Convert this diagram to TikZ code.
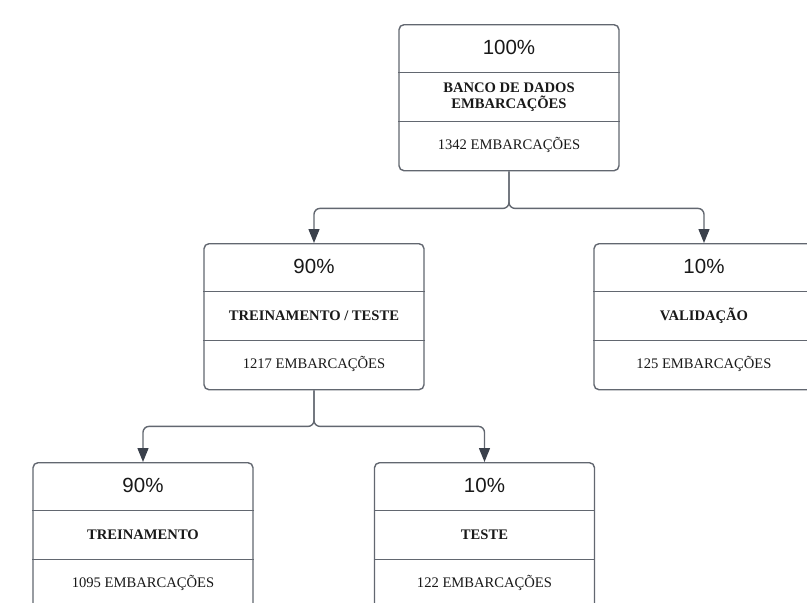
\documentclass[tikz,border=0pt]{standalone}
\usepackage{fontspec}
\setmainfont{Liberation Serif}
\newfontfamily\pctfont{Liberation Sans}
\usetikzlibrary{arrows.meta}
\definecolor{linegray}{RGB}{98,103,112}
\definecolor{tipgray}{RGB}{58,64,75}
\definecolor{txt}{RGB}{25,25,25}
\tikzset{
  boxshape/.style={draw=linegray, line width=1.4pt, rounded corners=5pt, fill=white,
    minimum width=220pt, minimum height=146pt, inner sep=0pt, anchor=north},
  divider/.style={draw=linegray, line width=1.2pt},
  pcttext/.style={font=\pctfont\fontsize{20.5}{24}\selectfont, text=txt, inner sep=0pt},
  lbltext/.style={font=\bfseries\fontsize{14.6}{16.5}\selectfont, text=txt, align=center, inner sep=0pt},
  cnttext/.style={font=\fontsize{14.6}{16}\selectfont, text=txt, inner sep=0pt},
  conn/.style={draw=linegray, line width=1.4pt, rounded corners=6pt,
    -{Triangle[length=14pt,width=11pt,fill=tipgray,color=tipgray]}},
}
% \mybox{name}{center x}{top y}{percent}{label}{count}
\newcommand{\mybox}[6]{%
  \node[boxshape] (#1) at (#2,#3) {};
  \draw[divider] ([yshift=-48.5pt]#1.north west) -- ([yshift=-48.5pt]#1.north east);
  \draw[divider] ([yshift=-97.5pt]#1.north west) -- ([yshift=-97.5pt]#1.north east);
  \node[pcttext] (#1-pct) at ([yshift=-23pt]#1.north) {#4};
  \node[lbltext] (#1-lbl) at ([yshift=-73pt]#1.north) {#5};
  \node[cnttext] (#1-cnt) at ([yshift=-121pt]#1.north) {#6};
}
\begin{document}
\begin{tikzpicture}[x=1pt,y=-1pt]
\useasboundingbox (0,0) rectangle (807,603);
\clip (0,0) rectangle (807,603);
\fill[white] (0,0) rectangle (807,603);
\mybox{top}{509}{24}{100\%}{BANCO DE DADOS\\EMBARCAÇÕES}{1342 EMBARCAÇÕES}
\mybox{midL}{314}{243}{90\%}{TREINAMENTO / TESTE}{1217 EMBARCAÇÕES}
\mybox{midR}{704}{243}{10\%}{VALIDAÇÃO}{125 EMBARCAÇÕES}
\mybox{botL}{143}{462}{90\%}{TREINAMENTO}{1095 EMBARCAÇÕES}
\mybox{botM}{484.5}{462}{10\%}{TESTE}{122 EMBARCAÇÕES}
\draw[conn] (top.south) -- ++(0,37) -| (midL.north);
\draw[conn] (top.south) -- ++(0,37) -| (midR.north);
\draw[conn] (midL.south) -- ++(0,36) -| (botL.north);
\draw[conn] (midL.south) -- ++(0,36) -| (botM.north);
\end{tikzpicture}
\end{document}
